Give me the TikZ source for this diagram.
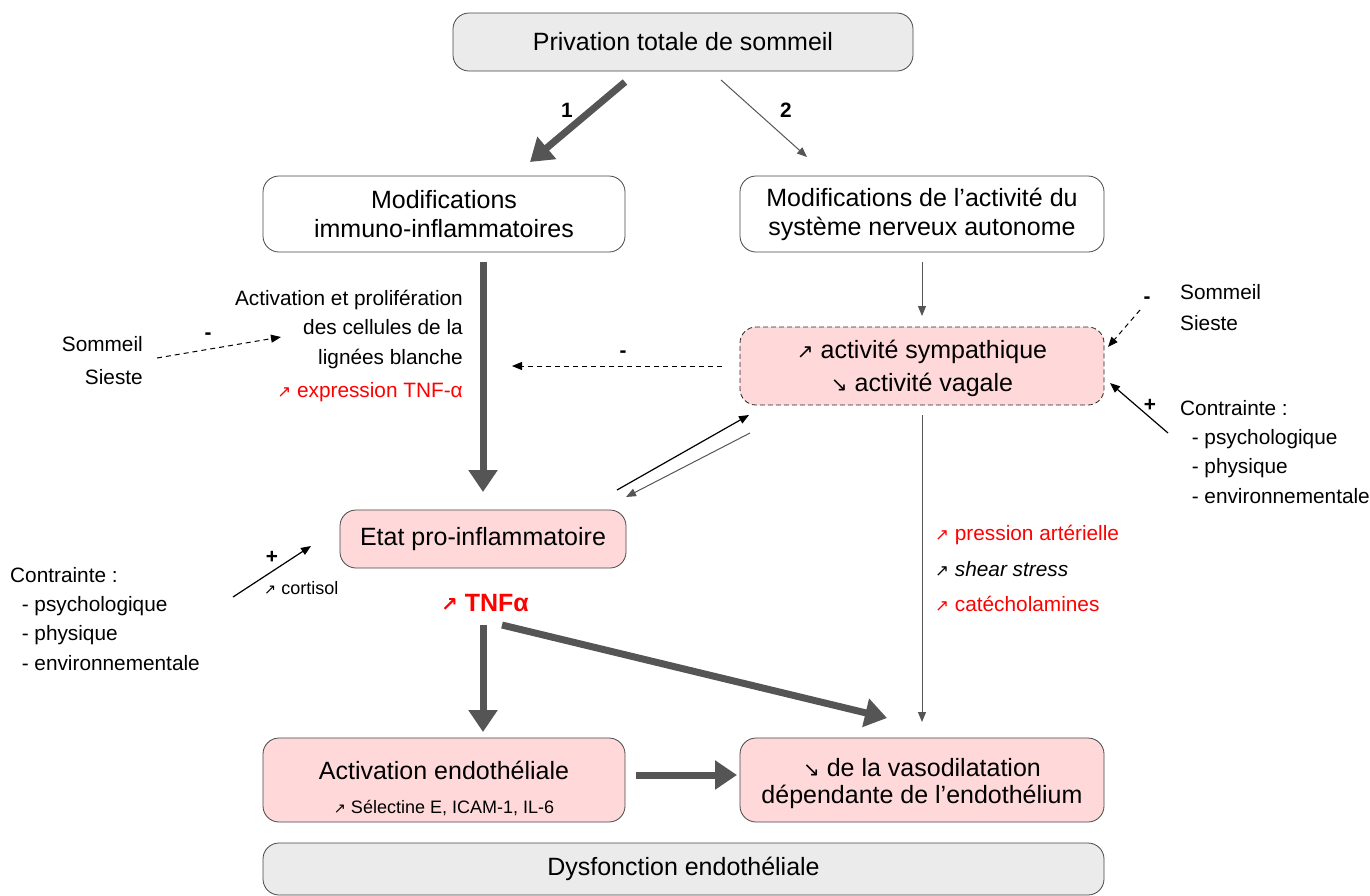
\documentclass[tikz,border=0pt]{standalone}
\usepackage{fontspec}
\setmainfont{Liberation Sans}
\newfontfamily\arr{DejaVu Sans}
\usetikzlibrary{arrows.meta}
\definecolor{pinkf}{RGB}{255,217,217}
\definecolor{grayf}{RGB}{235,235,235}
\definecolor{darkg}{RGB}{85,85,85}
\definecolor{bord}{RGB}{70,70,70}
\newcommand\fmain{\fontsize{25}{29}\selectfont}
\newcommand\fside{\fontsize{20.8}{29.3}\selectfont}
\newcommand\fsmall{\fontsize{18}{20}\selectfont}
\newcommand\nea{{\arr\scalebox{0.8}{↗}}}
\newcommand\sea{{\arr\scalebox{0.8}{↘}}}
\begin{document}
\begin{tikzpicture}[x=1pt,y=-1pt,
  box/.style={draw=bord, line width=0.8pt, rounded corners=16pt, align=center, font=\fmain, inner sep=0pt},
  pinkbox/.style={box, fill=pinkf},
  graybox/.style={box, fill=grayf},
  whitebox/.style={box, fill=white},
  txt/.style={font=\fside, inner sep=0pt},
  thickarr/.style={draw=darkg, line width=7pt, -{Triangle[length=22pt,width=28pt]}},
  thinarr/.style={draw=darkg, line width=1pt, -{Triangle[length=10pt,width=8pt]}},
  blackarr/.style={draw=black, line width=1.2pt, -{Triangle[length=10pt,width=8pt]}},
  dasharr/.style={draw=black, line width=1pt, dash pattern=on 5pt off 4pt, -{Triangle[length=10pt,width=8pt]}},
  sign/.style={font=\bfseries\fside, inner sep=0pt}]
\useasboundingbox (0,0) rectangle (1370,895);

% boxes
\node[graybox, minimum width=460pt, minimum height=58pt] (priv) at (683,42) {Privation totale de sommeil};
\node[whitebox, minimum width=362pt, minimum height=76pt] (immuno) at (444,214) {Modifications\\immuno-inflammatoires};
\node[whitebox, minimum width=364pt, minimum height=76pt] (sna) at (922,214) {Modifications de l’activité du\\système nerveux autonome};
\node[pinkbox, draw=black!85, dash pattern=on 5pt off 3pt, minimum width=364pt, minimum height=78pt] (symp) at (922,366) {};
\node[font=\fmain, inner sep=0pt] (sympa) at (922,352) {\nea{} activité sympathique};
\node[font=\fmain, inner sep=0pt] (vagal) at (922,385) {\sea{} activité vagale};
\node[pinkbox, minimum width=286pt, minimum height=58pt] (etat) at (483,539) {Etat pro-inflammatoire};
\node[pinkbox, minimum width=362pt, minimum height=84pt] (actendo) at (444,780) {};
\node[font=\fmain, inner sep=0pt] (actendot) at (444,770) {Activation endothéliale};
\node[font=\fsmall, inner sep=0pt] (sel) at (444,808) {\nea{} Sélectine E, ICAM-1, IL-6};
\node[pinkbox, minimum width=364pt, minimum height=84pt] (vaso) at (922,780) {};
\node[font=\fmain, inner sep=0pt] (vaso1) at (922,768) {\sea{} de la vasodilatation};
\node[font=\fmain, inner sep=0pt] (vaso2) at (922,797) {dépendante de l’endothélium};
\node[graybox, minimum width=841pt, minimum height=52pt] (dys) at (683.5,869) {Dysfonction endothéliale};

% left texts
\node[txt, align=right, anchor=north east] (actprol) at (463,290) {Activation et prolifération\\des cellules de la\hspace*{6pt}\\lignées blanche};
\node[txt, anchor=east, text=red] (exptnf) at (463,392) {\nea{} expression TNF-α};
\node[txt, anchor=east] (somL) at (143,344) {Sommeil};
\node[txt, anchor=east] (siesL) at (143,377) {Sieste};
\node[txt, align=left, anchor=north west] (contL) at (10,567) {Contrainte :\\\ \ - psychologique\\\ \ - physique\\\ \ - environnementale};
\node[font=\fsmall, inner sep=0pt, anchor=west] (cort) at (264,588) {\nea{} cortisol};
\node[font=\bfseries\fmain, text=red, inner sep=0pt] (tnf) at (485,603) {\nea{} TNFα};

% right texts
\node[txt, anchor=west] (somR) at (1180,292) {Sommeil};
\node[txt, anchor=west] (siesR) at (1180,323) {Sieste};
\node[txt, align=left, anchor=north west] (contR) at (1180,400) {Contrainte :\\\ \ - psychologique\\\ \ - physique\\\ \ - environnementale};
\node[txt, anchor=west, text=red] (pa) at (935,535) {\nea{} pression artérielle};
\node[txt, anchor=west] (shear) at (935,569) {\nea{} \textit{shear stress}};
\node[txt, anchor=west, text=red] (cate) at (935,604) {\nea{} catécholamines};

% coordinates
\coordinate (a1s) at (625,82);
\coordinate (a1e) at (530,162);
\coordinate (a2s) at (721,80);
\coordinate (a2e) at (807,157);
\coordinate (ims) at (483,262);
\coordinate (ime) at (483,492);
\coordinate (snas) at (922,262);
\coordinate (snae) at (922,316);
\coordinate (dls) at (722,366);
\coordinate (dle) at (512,366);
\coordinate (dsL) at (157,358);
\coordinate (deL) at (281,337);
\coordinate (bAs) at (617,490);
\coordinate (bAe) at (749,415);
\coordinate (gAs) at (750,433);
\coordinate (gAe) at (626,497);
\coordinate (dsR) at (1140,310);
\coordinate (deR) at (1108,347);
\coordinate (pRs) at (1168,433);
\coordinate (pRe) at (1110,383);
\coordinate (pLs) at (233,597);
\coordinate (pLe) at (311,546);
\coordinate (t1s) at (483,625);
\coordinate (t1e) at (483,732);
\coordinate (t2s) at (502,625);
\coordinate (t2e) at (887,718);
\coordinate (vs) at (922,415);
\coordinate (ve) at (922,722);
\coordinate (hs) at (636,775);
\coordinate (he) at (737,775);

% arrows
\draw[thickarr] (a1s) -- (a1e);
\node[sign] (one) at (567,110) {1};
\draw[thinarr] (a2s) -- (a2e);
\node[sign] (two) at (786,110) {2};
\draw[thickarr] (ims) -- (ime);
\draw[thinarr] (snas) -- (snae);
\draw[dasharr] (dls) -- (dle);
\node[sign] (m1) at (623,354) {-};
\draw[dasharr] (dsL) -- (deL);
\node[sign] (m2) at (208,336) {-};
\draw[blackarr] (bAs) -- (bAe);
\draw[thinarr] (gAs) -- (gAe);
\draw[dasharr] (dsR) -- (deR);
\node[sign] (m3) at (1147,300) {-};
\draw[blackarr] (pRs) -- (pRe);
\node[sign] (p1) at (1150,405) {+};
\draw[blackarr] (pLs) -- (pLe);
\node[sign] (p2) at (272,557) {+};
\draw[thickarr] (t1s) -- (t1e);
\draw[thickarr] (t2s) -- (t2e);
\draw[thinarr] (vs) -- (ve);
\draw[thickarr] (hs) -- (he);
\end{tikzpicture}
\end{document}
